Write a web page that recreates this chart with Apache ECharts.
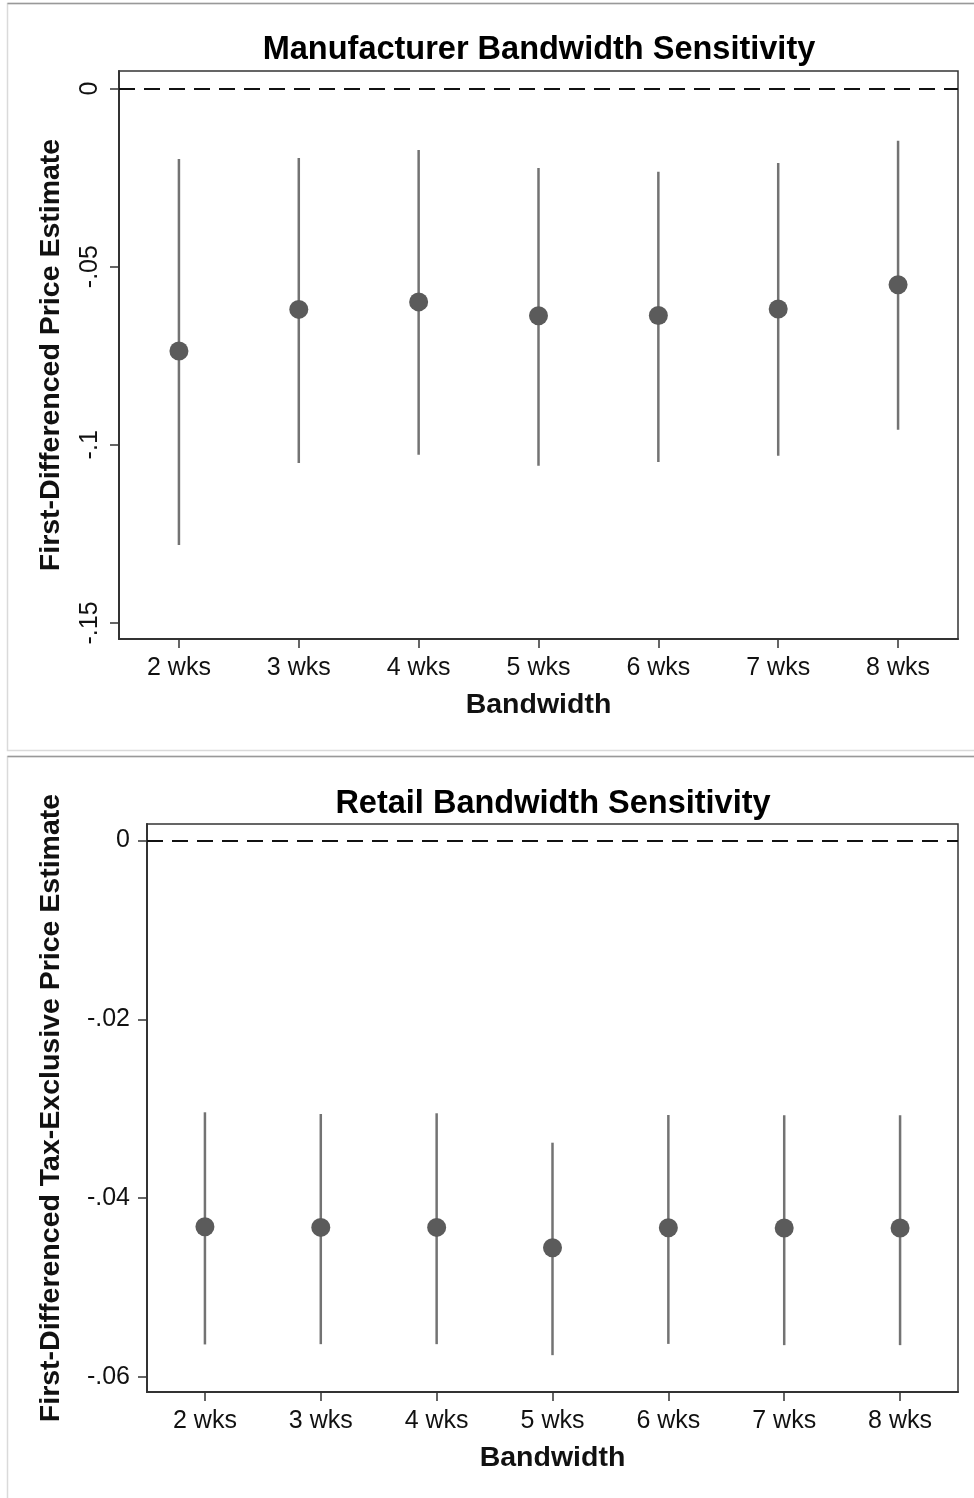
<!DOCTYPE html>
<html>
<head>
<meta charset="utf-8">
<script src="https://cdn.jsdelivr.net/npm/echarts@6/dist/echarts.min.js"></script>
<style>
html,body{margin:0;padding:0;background:#fff;}
#c{width:974px;height:1498px;}
</style>
</head>
<body>
<div id="c"></div>
<script>
// ---- data ----
const categories = ['2 wks','3 wks','4 wks','5 wks','6 wks','7 wks','8 wks'];

const mfgEst   = [-0.0737, -0.0620, -0.0599, -0.0638, -0.0637, -0.0619, -0.0551];
const mfgUpper = [-0.0198, -0.0195, -0.0173, -0.0223, -0.0234, -0.0209, -0.0147];
const mfgLower = [-0.1281, -0.1051, -0.1028, -0.1059, -0.1048, -0.1031, -0.0958];
const mfgTicks = [0, -0.05, -0.1, -0.15];

const retEst   = [-0.04320, -0.04327, -0.04327, -0.04555, -0.04331, -0.04334, -0.04334];
const retUpper = [-0.03040, -0.03059, -0.03051, -0.03380, -0.03070, -0.03073, -0.03073];
const retLower = [-0.05636, -0.05633, -0.05633, -0.05756, -0.05630, -0.05644, -0.05644];
const retTicks = [0, -0.02, -0.04, -0.06];

const FONT = '"Liberation Sans", Arial, Helvetica, sans-serif';
const fmt = v => {
  if (Math.abs(v) < 1e-12) return '0';
  let s = String(+v.toFixed(4));
  return s.replace(/^(-?)0\./, '$1.');
};

const chart = echarts.init(document.getElementById('c'), null, {renderer:'canvas'});

function errData(lo, hi){ return categories.map((c,i)=>[i, lo[i], hi[i]]); }
function ptData(est){ return categories.map((c,i)=>[i, est[i]]); }

const renderBar = function(params, api){
  const x = api.value(0);
  const p1 = api.coord([x, api.value(1)]);
  const p2 = api.coord([x, api.value(2)]);
  return {type:'line', shape:{x1:p1[0], y1:p1[1], x2:p2[0], y2:p2[1]},
          style:{stroke:'#737373', lineWidth:2.5}};
};

function xAxisCfg(gi){
  return {
    gridIndex: gi, type:'category', data: categories, boundaryGap: true,
    name:'Bandwidth', nameLocation:'middle', nameGap: 52,
    nameTextStyle:{fontFamily:FONT, fontSize:28.5, fontWeight:'bold', color:'#111'},
    axisLine:{show:true, onZero:false, lineStyle:{color:'#333', width:2}},
    axisTick:{show:true, alignWithLabel:true, length:9, lineStyle:{color:'#333', width:1.5}},
    axisLabel:{fontFamily:FONT, fontSize:25, color:'#111', margin:17},
    splitLine:{show:false}
  };
}

const option = {
  animation:false,
  backgroundColor:'#fff',
  title:[
    {text:'Manufacturer Bandwidth Sensitivity', left:534, top:29, textAlign:'center',
     textStyle:{fontFamily:FONT, fontSize:32.5, fontWeight:'bold', color:'#000'}},
    {text:'Retail Bandwidth Sensitivity', left:548, top:783, textAlign:'center',
     textStyle:{fontFamily:FONT, fontSize:32.5, fontWeight:'bold', color:'#000'}}
  ],
  graphic:[
    {type:'rect', shape:{x:7.5, y:3.5, width:980, height:747}, style:{fill:'none', stroke:'#dadada', lineWidth:1.5}, silent:true, z:-10},
    {type:'line', shape:{x1:7.5, y1:3.5, x2:974, y2:3.5}, style:{stroke:'#999', lineWidth:1.5}, silent:true, z:-9},
    {type:'rect', shape:{x:7.5, y:756.5, width:980, height:760}, style:{fill:'none', stroke:'#dadada', lineWidth:1.5}, silent:true, z:-10},
    {type:'line', shape:{x1:7.5, y1:756.5, x2:974, y2:756.5}, style:{stroke:'#999', lineWidth:1.5}, silent:true, z:-9}
  ],
  grid:[
    {left:119, right:16, top:71, height:568, show:true, borderColor:'#333', borderWidth:1.5, backgroundColor:'transparent', outerBoundsMode:'none'},
    {left:147, right:16, top:824, height:568, show:true, borderColor:'#333', borderWidth:1.5, backgroundColor:'transparent', outerBoundsMode:'none'}
  ],
  xAxis:[ xAxisCfg(0), xAxisCfg(1) ],
  yAxis:[
    {gridIndex:0, type:'value', min:-0.1545, max:0.0049,
     name:'First-Differenced Price Estimate', nameLocation:'middle', nameGap:53,
     nameTextStyle:{fontFamily:FONT, fontSize:28.5, fontWeight:'bold', color:'#111'},
     axisLine:{show:true, onZero:false, lineStyle:{color:'#333', width:2}},
     axisTick:{show:true, length:9, customValues: mfgTicks, lineStyle:{color:'#333', width:1.5}},
     axisLabel:{fontFamily:FONT, fontSize:25, color:'#111', margin:16, rotate:90, customValues: mfgTicks, formatter: fmt},
     splitLine:{show:false}},
    {gridIndex:1, type:'value', min:-0.06168, max:0.00184,
     name:'First-Differenced Tax-Exclusive Price Estimate', nameLocation:'middle', nameGap:81,
     nameTextStyle:{fontFamily:FONT, fontSize:28.5, fontWeight:'bold', color:'#111'},
     axisLine:{show:true, onZero:false, lineStyle:{color:'#333', width:2}},
     axisTick:{show:true, length:9, customValues: retTicks, lineStyle:{color:'#333', width:1.5}},
     axisLabel:{fontFamily:FONT, fontSize:25, color:'#111', margin:17, customValues: retTicks, formatter: fmt},
     splitLine:{show:false}}
  ],
  series:[
    {type:'custom', xAxisIndex:0, yAxisIndex:0, data: errData(mfgLower, mfgUpper), renderItem: renderBar, z:2,
     encode:{x:0, y:[1,2]},
     markLine:{silent:true, symbol:'none', label:{show:false},
       lineStyle:{color:'#111', width:2, type:[16,9]}, data:[{yAxis:0}]}},
    {type:'scatter', xAxisIndex:0, yAxisIndex:0, data: ptData(mfgEst), symbol:'circle', symbolSize:19,
     itemStyle:{color:'#5b5b5b', opacity:1}, z:3},
    {type:'custom', xAxisIndex:1, yAxisIndex:1, data: errData(retLower, retUpper), renderItem: renderBar, z:2,
     encode:{x:0, y:[1,2]},
     markLine:{silent:true, symbol:'none', label:{show:false},
       lineStyle:{color:'#111', width:2, type:[16,9]}, data:[{yAxis:0}]}},
    {type:'scatter', xAxisIndex:1, yAxisIndex:1, data: ptData(retEst), symbol:'circle', symbolSize:19,
     itemStyle:{color:'#5b5b5b', opacity:1}, z:3}
  ]
};
chart.setOption(option);
</script>
</body>
</html>
